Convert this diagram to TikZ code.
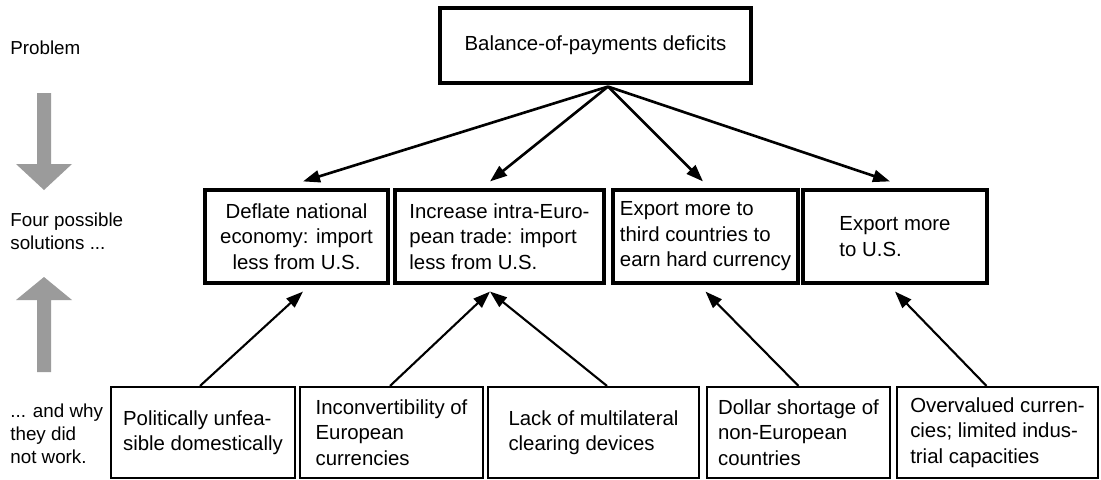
\documentclass[tikz,border=0pt]{standalone}
\usepackage{fontspec}
\setmainfont{Liberation Sans}
\usepackage{xcolor}
\usepackage{tikz}
\usetikzlibrary{positioning,arrows.meta,calc}
\definecolor{flowgray}{RGB}{155,155,155}

\begin{document}
\begin{tikzpicture}[
    box/.style={rectangle, draw=black, line width=1.8pt, align=center, inner sep=0pt, font=\fontsize{11.6}{14.5}\selectfont},
    whybox/.style={box, line width=1.2pt, minimum height=1.82cm},
    solbox/.style={box, minimum height=1.86cm},
    side/.style={anchor=west, align=left, inner sep=0pt, font=\fontsize{10.7}{13.2}\selectfont},
    arr/.style={-{Triangle[length=0.34cm,width=0.24cm]}, line width=1.5pt},
    uparr/.style={arr, line width=1.2pt},
]
    \useasboundingbox (0,0) rectangle (22.02,-9.58);

    % problem and four solutions
    \node[box, minimum width=6.22cm, minimum height=1.5cm] (bop) at (11.91, -0.91) {Balance-of-payments deficits};
    \node[solbox, minimum width=3.66cm] (sol1) at (5.93, -4.73) {Deflate national\\economy: import\\less from U.S.};
    \node[solbox, minimum width=4.18cm, align=left] (sol2) at (9.99, -4.73) {Increase intra-Euro-\\pean trade: import\\less from U.S.};
    \node[solbox, minimum width=3.70cm, align=left] (sol3) at (14.11, -4.73) {Export more to\\third countries to\\earn hard currency};
    \node[solbox, minimum width=3.68cm, align=left] (sol4) at (17.90, -4.73) {Export more\\to U.S.};

    % why they did not work
    \node[whybox, minimum width=3.68cm, align=left] (why1) at (4.06, -8.65) {Politically unfea-\\sible domestically};
    \node[whybox, minimum width=3.66cm, align=left] (why2) at (7.83, -8.65) {Inconvertibility of\\European\\currencies};
    \node[whybox, minimum width=4.22cm, align=left] (why3) at (11.87, -8.65) {Lack of multilateral\\clearing devices};
    \node[whybox, minimum width=3.66cm, align=left] (why4) at (15.97, -8.65) {Dollar shortage of\\non-European\\countries};
    \node[whybox, minimum width=4.02cm, align=left] (why5) at (19.95, -8.65) {Overvalued curren-\\cies; limited indus-\\trial capacities};

    % side labels
    \node[side] (lblprob) at (0.2, -0.96) {Problem};
    \node[side] (lblsol) at (0.2, -4.63) {Four possible\\solutions ...};
    \node[side] (lblwhy) at (0.2, -8.68) {... and why\\they did\\not work.};

    \fill[flowgray] (0.74,-1.86) -- (1.02,-1.86) -- (1.02,-3.28) -- (1.44,-3.28) -- (0.88,-3.8) -- (0.32,-3.28) -- (0.74,-3.28) -- cycle;
    \fill[flowgray] (0.74,-7.44) -- (1.02,-7.44) -- (1.02,-6.0) -- (1.44,-6.0) -- (0.88,-5.54) -- (0.32,-6.0) -- (0.74,-6.0) -- cycle;

    % connectors
    \coordinate (src) at ([xshift=0.25cm, yshift=-0.04cm]bop.south);
    \draw[arr] (src) -- ([xshift=0.13cm, yshift=0.14cm]sol1.north);
    \draw[arr] (src) -- ([xshift=-0.19cm, yshift=0.14cm]sol2.north);
    \draw[arr] (src) -- ([xshift=-0.05cm, yshift=0.14cm]sol3.north);
    \draw[arr] (src) -- ([xshift=-0.1cm, yshift=0.14cm]sol4.north);

    \draw[uparr] ([xshift=-0.06cm]why1.north) -- ([xshift=0.13cm, yshift=-0.14cm]sol1.south);
    \draw[uparr] ([xshift=-0.03cm]why2.north) -- ([xshift=-0.19cm, yshift=-0.14cm]sol2.south);
    \draw[uparr] ([xshift=0.27cm]why3.north) -- ([xshift=-0.19cm, yshift=-0.14cm]sol2.south);
    \draw[uparr] (why4.north) -- ([yshift=-0.14cm]sol3.south);
    \draw[uparr] ([xshift=-0.22cm]why5.north) -- ([yshift=-0.14cm]sol4.south);
\end{tikzpicture}
\end{document}
